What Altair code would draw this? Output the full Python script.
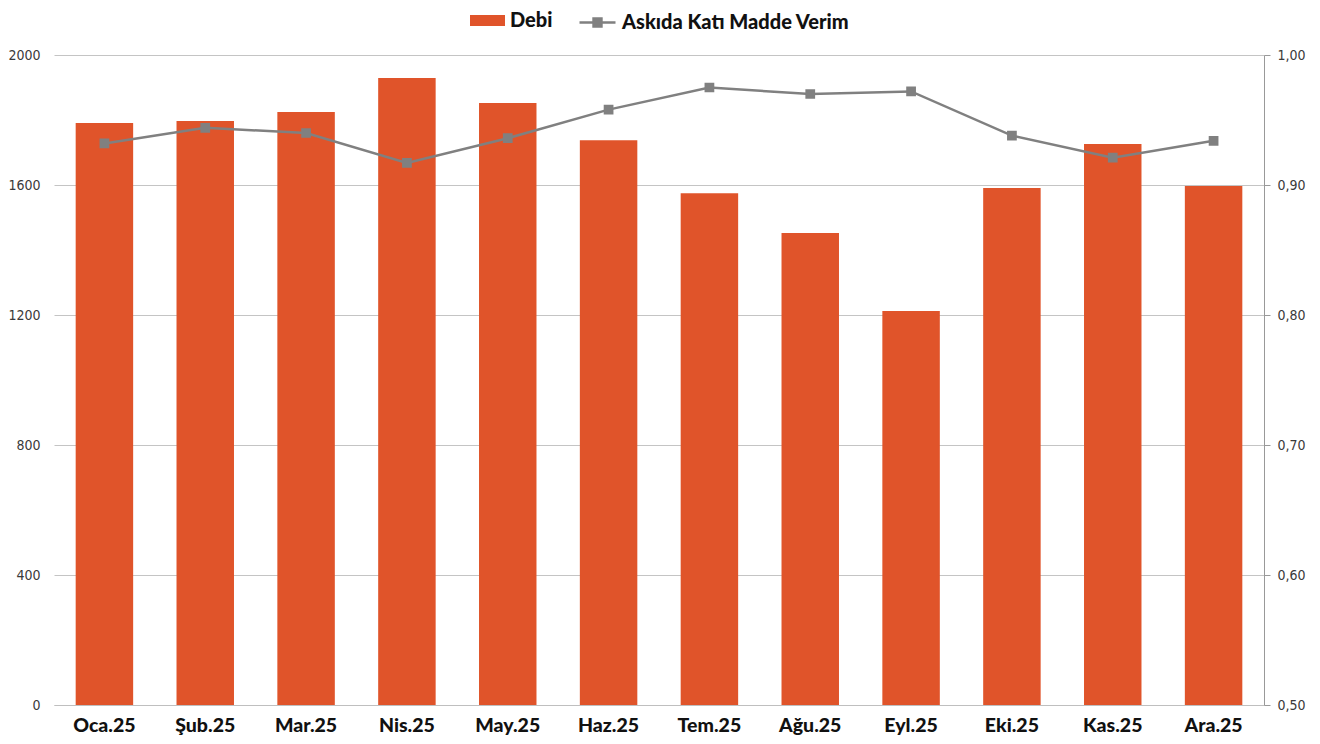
import altair as alt
import pandas as pd

months = ["Oca.25", "Şub.25", "Mar.25", "Nis.25", "May.25", "Haz.25",
          "Tem.25", "Ağu.25", "Eyl.25", "Eki.25", "Kas.25", "Ara.25"]
debi = [1791, 1797, 1825, 1929, 1852, 1738, 1575, 1452, 1212, 1591, 1726, 1597]
verim = [0.932, 0.944, 0.940, 0.917, 0.936, 0.958, 0.975, 0.970, 0.972, 0.938, 0.921, 0.934]
left_ticks = [0, 400, 800, 1200, 1600, 2000]
right_ticks = [0.5, 0.6, 0.7, 0.8, 0.9, 1.0]

df = pd.DataFrame({
    "month": months, "debi": debi, "verim": verim,
    "s1": ["Debi"] * len(months),
    "s2": ["Askıda Katı Madde Verim"] * len(months),
})

BAR = "#E0542A"
LINE = "#808080"
LABEL_FONT = "DejaVu Sans Condensed"
BOLD_FONT = "Lato"

x = alt.X("month:N", sort=months, title=None,
          scale=alt.Scale(paddingInner=0.43, paddingOuter=0.215),
          axis=alt.Axis(labelFont=BOLD_FONT, labelFontWeight=900, labelFontSize=19.5,
                        labelColor="#111111", labelPadding=11, ticks=False,
                        domainColor="#bfbfbf", labelAngle=0))

bars = alt.Chart(df).mark_bar().encode(
    x=x,
    y=alt.Y("debi:Q", title=None,
            scale=alt.Scale(domain=[0, 2000], nice=False),
            axis=alt.Axis(values=left_ticks, format="d", grid=True, gridColor="#c4c4c4",
                          ticks=False, domain=False, labelFont=LABEL_FONT, labelFontSize=14,
                          labelColor="#3a3a3a", labelPadding=14)),
    color=alt.Color("s1:N", scale=alt.Scale(domain=["Debi"], range=[BAR]),
                    legend=alt.Legend(title=None, orient="none", legendX=416, legendY=-52,
                                      symbolType="M-1,-0.32L1,-0.32L1,0.32L-1,0.32Z",
                                      symbolSize=1225, symbolStrokeWidth=0,
                                      labelFont=BOLD_FONT, labelFontWeight=900,
                                      labelFontSize=20, labelColor="#111111",
                                      labelOffset=5, labelLimit=400, padding=0)),
)

line = alt.Chart(df).mark_line(
    strokeWidth=2.5,
    point=alt.OverlayMarkDef(shape="square", filled=True, size=60, color=LINE, opacity=1),
).encode(
    x=x,
    y=alt.Y("verim:Q", title=None,
            scale=alt.Scale(domain=[0.5, 1.0], nice=False),
            axis=alt.Axis(orient="right", values=right_ticks, grid=False, ticks=True,
                          tickSize=6, tickColor="#999999", domain=True, domainColor="#999999",
                          labelFont=LABEL_FONT, labelFontSize=14, labelColor="#3a3a3a",
                          labelPadding=7,
                          labelExpr="replace(format(datum.value, '.2f'), '.', ',')")),
    stroke=alt.Stroke("s2:N", scale=alt.Scale(domain=["Askıda Katı Madde Verim"], range=[LINE]),
                      legend=alt.Legend(title=None, orient="none", legendX=524, legendY=-52,
                                        symbolType="M-1,0L1,0M-0.22,-0.22L0.22,-0.22L0.22,0.22L-0.22,0.22Z",
                                        symbolSize=1296, symbolStrokeWidth=2.5,
                                        symbolFillColor=LINE,
                                        labelFont=BOLD_FONT, labelFontWeight=900,
                                        labelFontSize=20, labelColor="#111111",
                                        labelOffset=5, labelLimit=400, padding=0)),
)

chart = alt.layer(bars, line).resolve_scale(y="independent", color="independent",
                                            stroke="independent").properties(
    width=1210, height=650,
    autosize=alt.AutoSizeParams(type="none"),
    padding={"left": 46, "top": 47, "right": 48, "bottom": 31},
).configure_view(stroke=None)

chart.save("out.html", embed_options={"renderer": "svg", "actions": False})
